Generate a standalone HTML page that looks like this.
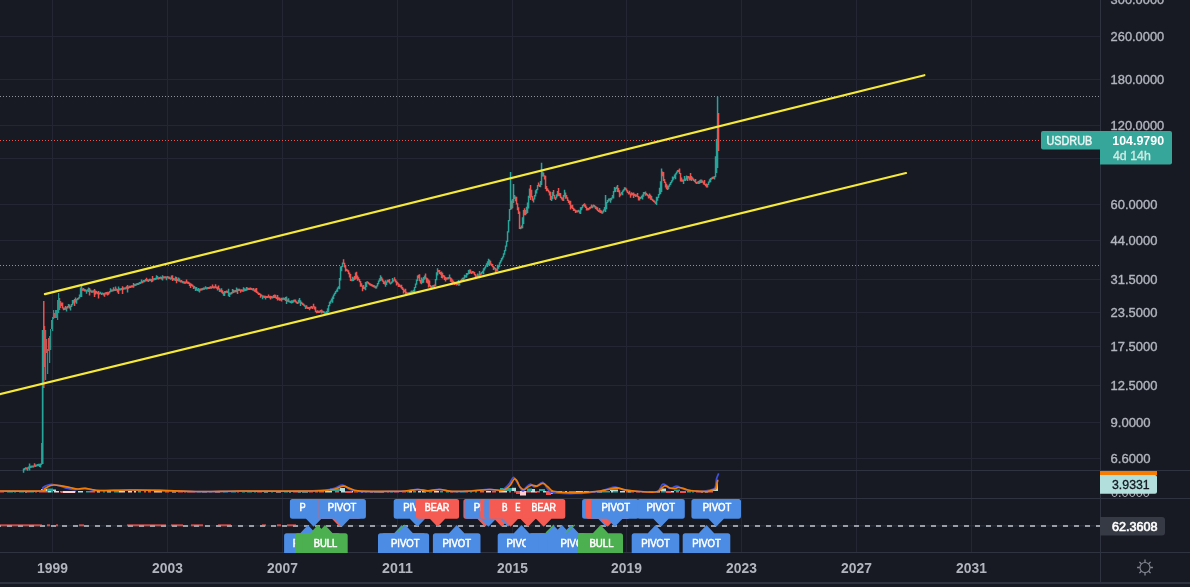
<!DOCTYPE html>
<html><head><meta charset="utf-8"><style>html,body{margin:0;padding:0;background:#171923;overflow:hidden}svg{display:block;will-change:transform}</style></head>
<body><svg width="1190" height="587" viewBox="0 0 1190 587">
<rect x="0" y="0" width="1190" height="587" fill="#171923"/>
<rect x="52" y="0" width="1" height="552" fill="#242733"/>
<rect x="167" y="0" width="1" height="552" fill="#242733"/>
<rect x="282" y="0" width="1" height="552" fill="#242733"/>
<rect x="397" y="0" width="1" height="552" fill="#242733"/>
<rect x="512" y="0" width="1" height="552" fill="#242733"/>
<rect x="626" y="0" width="1" height="552" fill="#242733"/>
<rect x="741" y="0" width="1" height="552" fill="#242733"/>
<rect x="856" y="0" width="1" height="552" fill="#242733"/>
<rect x="971" y="0" width="1" height="552" fill="#242733"/>
<rect x="0" y="36" width="1100" height="1" fill="#242733"/>
<rect x="0" y="79" width="1100" height="1" fill="#242733"/>
<rect x="0" y="125" width="1100" height="1" fill="#242733"/>
<rect x="0" y="158" width="1100" height="1" fill="#242733"/>
<rect x="0" y="204" width="1100" height="1" fill="#242733"/>
<rect x="0" y="240" width="1100" height="1" fill="#242733"/>
<rect x="0" y="279" width="1100" height="1" fill="#242733"/>
<rect x="0" y="312" width="1100" height="1" fill="#242733"/>
<rect x="0" y="346" width="1100" height="1" fill="#242733"/>
<rect x="0" y="385" width="1100" height="1" fill="#242733"/>
<rect x="0" y="422" width="1100" height="1" fill="#242733"/>
<rect x="0" y="458" width="1100" height="1" fill="#242733"/>
<rect x="0" y="470" width="1190" height="1" fill="#2f3340"/>
<rect x="0" y="498" width="1190" height="1" fill="#2f3340"/>
<rect x="0" y="552" width="1190" height="1" fill="#2f3340"/>
<rect x="1100" y="0" width="1" height="583" fill="#2f3340"/>
<rect x="0" y="582" width="1190" height="2" fill="#2f3340"/>
<line x1="0" y1="96.5" x2="1100" y2="96.5" stroke="#8f929b" stroke-width="1" stroke-dasharray="1 2"/>
<line x1="0" y1="265.5" x2="1100" y2="265.5" stroke="#8f929b" stroke-width="1" stroke-dasharray="1 2"/>
<line x1="0" y1="140.5" x2="1041" y2="140.5" stroke="#ef5350" stroke-width="1" stroke-dasharray="1 2"/>
<path d="M22.8 468.6h1.5V472.8h-1.5ZM23.8 468.0h1.5V470.2h-1.5ZM24.8 467.3h1.5V469.5h-1.5ZM26.8 467.3h1.5V470.8h-1.5ZM27.8 466.6h1.5V468.8h-1.5ZM28.8 463.5h1.5V470.4h-1.5ZM29.8 465.8h1.5V468.0h-1.5ZM30.8 465.5h1.5V467.7h-1.5ZM31.8 465.4h1.5V467.6h-1.5ZM34.8 464.6h1.5V466.9h-1.5ZM35.8 464.4h1.5V466.6h-1.5ZM36.8 464.0h1.5V466.2h-1.5ZM37.8 463.8h1.5V466.0h-1.5ZM38.8 463.8h1.5V466.9h-1.5ZM39.8 463.6h1.5V467.5h-1.5ZM63.8 307.6h1.5V310.0h-1.5ZM65.8 307.1h1.5V311.5h-1.5ZM67.8 303.9h1.5V307.4h-1.5ZM69.8 305.7h1.5V310.4h-1.5ZM70.8 304.1h1.5V306.9h-1.5ZM71.8 300.0h1.5V305.3h-1.5ZM72.8 299.9h1.5V303.6h-1.5ZM74.8 297.6h1.5V302.6h-1.5ZM75.8 298.9h1.5V303.8h-1.5ZM77.8 297.3h1.5V299.5h-1.5ZM78.8 294.5h1.5V298.6h-1.5ZM79.8 287.6h1.5V296.9h-1.5ZM80.8 285.6h1.5V290.5h-1.5ZM82.8 288.0h1.5V290.8h-1.5ZM84.8 289.3h1.5V291.5h-1.5ZM85.8 289.9h1.5V293.8h-1.5ZM86.8 289.3h1.5V291.6h-1.5ZM87.8 287.6h1.5V291.9h-1.5ZM88.8 289.5h1.5V291.7h-1.5ZM89.8 289.4h1.5V291.7h-1.5ZM91.8 290.5h1.5V292.7h-1.5ZM92.8 290.2h1.5V292.4h-1.5ZM93.8 291.2h1.5V294.5h-1.5ZM96.8 292.1h1.5V294.3h-1.5ZM98.8 292.4h1.5V294.6h-1.5ZM99.8 291.8h1.5V294.1h-1.5ZM101.8 292.4h1.5V294.6h-1.5ZM102.8 292.9h1.5V295.5h-1.5ZM104.8 292.2h1.5V294.5h-1.5ZM108.8 291.0h1.5V293.6h-1.5ZM109.8 288.2h1.5V292.2h-1.5ZM111.8 289.4h1.5V291.6h-1.5ZM113.8 288.9h1.5V291.1h-1.5ZM114.8 286.6h1.5V290.9h-1.5ZM117.8 286.5h1.5V290.1h-1.5ZM118.8 288.2h1.5V290.4h-1.5ZM119.8 288.3h1.5V290.5h-1.5ZM120.8 287.9h1.5V290.1h-1.5ZM123.8 287.4h1.5V289.6h-1.5ZM124.8 287.2h1.5V289.4h-1.5ZM126.8 284.9h1.5V288.7h-1.5ZM128.8 285.8h1.5V288.0h-1.5ZM133.8 284.1h1.5V286.3h-1.5ZM134.8 283.7h1.5V285.9h-1.5ZM135.8 283.3h1.5V285.5h-1.5ZM137.8 282.8h1.5V285.1h-1.5ZM138.8 282.1h1.5V284.3h-1.5ZM139.8 281.7h1.5V283.9h-1.5ZM140.8 279.5h1.5V283.2h-1.5ZM142.8 280.0h1.5V282.4h-1.5ZM143.8 280.1h1.5V282.3h-1.5ZM147.8 279.4h1.5V282.1h-1.5ZM149.8 278.7h1.5V280.9h-1.5ZM152.8 278.2h1.5V280.4h-1.5ZM153.8 278.0h1.5V280.2h-1.5ZM154.8 277.8h1.5V280.0h-1.5ZM155.8 275.3h1.5V279.4h-1.5ZM156.8 276.1h1.5V279.2h-1.5ZM159.8 276.5h1.5V278.7h-1.5ZM161.8 275.2h1.5V280.4h-1.5ZM165.8 276.4h1.5V280.2h-1.5ZM166.8 276.0h1.5V278.2h-1.5ZM168.8 276.8h1.5V279.0h-1.5ZM169.8 277.5h1.5V279.7h-1.5ZM173.8 278.3h1.5V280.5h-1.5ZM174.8 276.6h1.5V281.0h-1.5ZM177.8 277.6h1.5V281.5h-1.5ZM178.8 278.4h1.5V281.8h-1.5ZM181.8 281.0h1.5V283.2h-1.5ZM182.8 281.3h1.5V283.5h-1.5ZM184.8 281.5h1.5V283.7h-1.5ZM186.8 281.5h1.5V283.7h-1.5ZM193.8 285.9h1.5V288.6h-1.5ZM194.8 287.1h1.5V291.1h-1.5ZM195.8 287.1h1.5V290.6h-1.5ZM196.8 288.8h1.5V291.0h-1.5ZM197.8 288.0h1.5V291.5h-1.5ZM198.8 288.7h1.5V292.6h-1.5ZM201.8 288.0h1.5V290.2h-1.5ZM203.8 287.5h1.5V289.7h-1.5ZM204.8 286.2h1.5V289.1h-1.5ZM205.8 287.2h1.5V289.4h-1.5ZM206.8 287.0h1.5V289.2h-1.5ZM208.8 286.8h1.5V289.0h-1.5ZM210.8 286.5h1.5V288.7h-1.5ZM216.8 286.8h1.5V290.5h-1.5ZM218.8 288.3h1.5V292.0h-1.5ZM220.8 288.2h1.5V292.8h-1.5ZM222.8 292.0h1.5V295.7h-1.5ZM223.8 290.9h1.5V295.9h-1.5ZM226.8 290.7h1.5V292.9h-1.5ZM227.8 288.8h1.5V296.3h-1.5ZM228.8 292.4h1.5V296.9h-1.5ZM229.8 292.5h1.5V294.7h-1.5ZM231.8 289.0h1.5V293.5h-1.5ZM233.8 290.3h1.5V292.5h-1.5ZM235.8 287.4h1.5V292.3h-1.5ZM237.8 288.8h1.5V291.0h-1.5ZM242.8 287.3h1.5V291.8h-1.5ZM243.8 288.2h1.5V291.3h-1.5ZM244.8 288.8h1.5V291.0h-1.5ZM245.8 286.9h1.5V290.7h-1.5ZM251.8 288.4h1.5V290.6h-1.5ZM261.8 295.2h1.5V299.3h-1.5ZM262.8 295.5h1.5V297.7h-1.5ZM264.8 295.8h1.5V299.5h-1.5ZM268.8 296.0h1.5V298.2h-1.5ZM271.8 296.2h1.5V298.4h-1.5ZM281.8 297.7h1.5V299.9h-1.5ZM282.8 297.5h1.5V299.7h-1.5ZM283.8 297.9h1.5V300.1h-1.5ZM285.8 296.5h1.5V303.9h-1.5ZM287.8 298.2h1.5V302.3h-1.5ZM288.8 300.4h1.5V302.6h-1.5ZM289.8 300.9h1.5V303.1h-1.5ZM290.8 300.3h1.5V303.6h-1.5ZM291.8 300.3h1.5V303.1h-1.5ZM292.8 299.8h1.5V302.5h-1.5ZM297.8 299.8h1.5V303.5h-1.5ZM298.8 298.0h1.5V302.8h-1.5ZM299.8 300.3h1.5V306.0h-1.5ZM303.8 304.5h1.5V306.7h-1.5ZM304.8 305.5h1.5V309.1h-1.5ZM308.8 306.9h1.5V310.2h-1.5ZM318.8 310.7h1.5V313.0h-1.5ZM320.8 309.5h1.5V313.6h-1.5ZM322.8 311.1h1.5V313.3h-1.5ZM323.8 311.6h1.5V313.8h-1.5ZM324.8 312.2h1.5V314.4h-1.5ZM325.8 311.0h1.5V314.4h-1.5ZM326.8 308.3h1.5V312.9h-1.5ZM327.8 305.1h1.5V312.0h-1.5ZM328.8 301.8h1.5V306.3h-1.5ZM329.8 300.6h1.5V303.8h-1.5ZM330.8 298.6h1.5V301.8h-1.5ZM331.8 296.6h1.5V302.7h-1.5ZM332.8 294.6h1.5V299.1h-1.5ZM333.8 292.8h1.5V295.8h-1.5ZM334.8 291.1h1.5V294.0h-1.5ZM335.8 289.4h1.5V292.3h-1.5ZM336.8 287.6h1.5V291.8h-1.5ZM337.8 286.2h1.5V288.8h-1.5ZM338.8 278.1h1.5V289.3h-1.5ZM339.8 266.5h1.5V280.4h-1.5ZM340.8 265.9h1.5V271.3h-1.5ZM341.8 262.4h1.5V267.1h-1.5ZM350.8 279.0h1.5V281.2h-1.5ZM351.8 276.7h1.5V281.3h-1.5ZM352.8 277.5h1.5V281.0h-1.5ZM354.8 272.6h1.5V279.4h-1.5ZM363.8 286.8h1.5V289.3h-1.5ZM364.8 281.9h1.5V290.2h-1.5ZM365.8 281.4h1.5V286.9h-1.5ZM373.8 285.2h1.5V287.7h-1.5ZM375.8 285.4h1.5V288.5h-1.5ZM376.8 283.0h1.5V286.6h-1.5ZM377.8 280.6h1.5V284.2h-1.5ZM378.8 278.2h1.5V281.8h-1.5ZM379.8 275.2h1.5V281.0h-1.5ZM384.8 280.2h1.5V286.8h-1.5ZM385.8 281.4h1.5V284.9h-1.5ZM386.8 279.7h1.5V282.6h-1.5ZM389.8 282.4h1.5V284.6h-1.5ZM390.8 281.5h1.5V283.8h-1.5ZM391.8 277.9h1.5V282.8h-1.5ZM392.8 279.6h1.5V281.8h-1.5ZM407.8 292.3h1.5V294.5h-1.5ZM409.8 291.6h1.5V293.8h-1.5ZM410.8 290.4h1.5V294.1h-1.5ZM411.8 290.7h1.5V292.9h-1.5ZM412.8 289.7h1.5V292.7h-1.5ZM413.8 286.9h1.5V293.3h-1.5ZM414.8 283.6h1.5V288.1h-1.5ZM415.8 279.5h1.5V284.8h-1.5ZM416.8 275.5h1.5V280.9h-1.5ZM420.8 277.4h1.5V284.3h-1.5ZM421.8 278.7h1.5V283.1h-1.5ZM422.8 277.1h1.5V282.7h-1.5ZM423.8 275.5h1.5V279.7h-1.5ZM430.8 286.0h1.5V289.6h-1.5ZM431.8 285.3h1.5V287.5h-1.5ZM434.8 279.0h1.5V286.0h-1.5ZM435.8 272.3h1.5V280.2h-1.5ZM436.8 268.3h1.5V275.5h-1.5ZM440.8 271.6h1.5V278.0h-1.5ZM447.8 277.1h1.5V279.3h-1.5ZM448.8 274.6h1.5V278.7h-1.5ZM457.8 279.9h1.5V285.8h-1.5ZM458.8 281.3h1.5V285.5h-1.5ZM460.8 278.7h1.5V281.6h-1.5ZM461.8 277.8h1.5V281.4h-1.5ZM463.8 274.8h1.5V278.7h-1.5ZM464.8 275.3h1.5V277.6h-1.5ZM465.8 273.1h1.5V277.7h-1.5ZM466.8 273.0h1.5V275.3h-1.5ZM467.8 269.9h1.5V274.2h-1.5ZM468.8 269.4h1.5V273.9h-1.5ZM470.8 271.6h1.5V273.9h-1.5ZM472.8 271.3h1.5V273.6h-1.5ZM476.8 273.6h1.5V277.1h-1.5ZM477.8 274.4h1.5V276.6h-1.5ZM478.8 270.9h1.5V278.3h-1.5ZM480.8 272.1h1.5V274.4h-1.5ZM481.8 270.8h1.5V273.3h-1.5ZM482.8 268.2h1.5V274.2h-1.5ZM483.8 267.3h1.5V270.5h-1.5ZM484.8 265.2h1.5V268.5h-1.5ZM485.8 263.2h1.5V266.4h-1.5ZM486.8 261.2h1.5V267.1h-1.5ZM487.8 258.7h1.5V265.2h-1.5ZM488.8 259.8h1.5V265.5h-1.5ZM493.8 267.1h1.5V269.3h-1.5ZM496.8 264.8h1.5V270.9h-1.5ZM497.8 264.8h1.5V268.7h-1.5ZM498.8 262.3h1.5V267.0h-1.5ZM499.8 260.3h1.5V263.5h-1.5ZM500.8 258.1h1.5V261.5h-1.5ZM501.8 256.4h1.5V259.6h-1.5ZM502.8 253.3h1.5V257.6h-1.5ZM503.8 250.0h1.5V254.8h-1.5ZM504.8 245.6h1.5V251.2h-1.5ZM505.8 240.8h1.5V246.8h-1.5ZM506.8 231.3h1.5V242.0h-1.5ZM507.8 220.0h1.5V232.5h-1.5ZM508.8 208.9h1.5V221.2h-1.5ZM509.8 201.6h1.5V210.1h-1.5ZM511.8 199.1h1.5V208.3h-1.5ZM512.8 197.8h1.5V202.9h-1.5ZM513.8 195.0h1.5V199.0h-1.5ZM519.8 227.0h1.5V229.2h-1.5ZM521.8 217.3h1.5V228.2h-1.5ZM522.8 210.1h1.5V224.1h-1.5ZM525.8 206.7h1.5V214.1h-1.5ZM526.8 202.5h1.5V213.0h-1.5ZM527.8 195.8h1.5V208.5h-1.5ZM528.8 188.6h1.5V197.9h-1.5ZM532.8 198.4h1.5V202.6h-1.5ZM533.8 194.9h1.5V199.6h-1.5ZM534.8 190.2h1.5V196.6h-1.5ZM535.8 189.1h1.5V193.6h-1.5ZM536.8 185.1h1.5V190.3h-1.5ZM539.8 181.0h1.5V187.2h-1.5ZM540.8 175.4h1.5V182.2h-1.5ZM541.8 171.5h1.5V176.6h-1.5ZM550.8 196.1h1.5V200.9h-1.5ZM551.8 192.0h1.5V199.2h-1.5ZM555.8 194.2h1.5V198.5h-1.5ZM556.8 191.1h1.5V196.4h-1.5ZM562.8 194.9h1.5V200.9h-1.5ZM563.8 189.8h1.5V196.8h-1.5ZM577.8 209.8h1.5V212.0h-1.5ZM578.8 210.5h1.5V213.5h-1.5ZM579.8 207.2h1.5V213.9h-1.5ZM580.8 207.1h1.5V210.3h-1.5ZM581.8 204.9h1.5V208.3h-1.5ZM588.8 206.9h1.5V209.4h-1.5ZM591.8 205.4h1.5V208.2h-1.5ZM593.8 205.0h1.5V207.4h-1.5ZM598.8 208.1h1.5V212.5h-1.5ZM601.8 211.2h1.5V213.8h-1.5ZM602.8 209.6h1.5V212.4h-1.5ZM603.8 207.0h1.5V210.8h-1.5ZM604.8 205.3h1.5V211.9h-1.5ZM605.8 201.9h1.5V209.2h-1.5ZM606.8 200.1h1.5V203.1h-1.5ZM607.8 198.4h1.5V201.8h-1.5ZM609.8 198.1h1.5V202.8h-1.5ZM610.8 197.4h1.5V200.3h-1.5ZM611.8 195.1h1.5V198.6h-1.5ZM612.8 191.1h1.5V198.6h-1.5ZM613.8 186.9h1.5V192.3h-1.5ZM614.8 187.8h1.5V192.1h-1.5ZM615.8 186.4h1.5V189.0h-1.5ZM620.8 192.0h1.5V194.6h-1.5ZM621.8 190.6h1.5V195.3h-1.5ZM622.8 189.2h1.5V191.8h-1.5ZM623.8 187.3h1.5V190.4h-1.5ZM634.8 194.2h1.5V197.0h-1.5ZM639.8 196.9h1.5V199.1h-1.5ZM640.8 195.7h1.5V198.2h-1.5ZM641.8 194.4h1.5V199.4h-1.5ZM642.8 192.1h1.5V196.7h-1.5ZM643.8 192.0h1.5V194.3h-1.5ZM646.8 194.1h1.5V196.3h-1.5ZM650.8 196.0h1.5V200.1h-1.5ZM652.8 199.7h1.5V201.9h-1.5ZM654.8 201.6h1.5V204.1h-1.5ZM655.8 196.8h1.5V205.0h-1.5ZM656.8 196.8h1.5V200.7h-1.5ZM657.8 194.1h1.5V198.0h-1.5ZM658.8 187.7h1.5V195.3h-1.5ZM659.8 181.3h1.5V194.1h-1.5ZM660.8 171.8h1.5V182.5h-1.5ZM667.8 185.5h1.5V189.3h-1.5ZM668.8 183.7h1.5V186.7h-1.5ZM669.8 182.0h1.5V184.9h-1.5ZM670.8 180.3h1.5V183.2h-1.5ZM671.8 176.5h1.5V181.5h-1.5ZM672.8 176.8h1.5V179.7h-1.5ZM673.8 174.5h1.5V178.0h-1.5ZM674.8 173.3h1.5V179.2h-1.5ZM675.8 171.6h1.5V174.5h-1.5ZM676.8 169.9h1.5V172.8h-1.5ZM682.8 179.4h1.5V184.0h-1.5ZM683.8 175.9h1.5V181.0h-1.5ZM684.8 178.4h1.5V181.1h-1.5ZM685.8 175.6h1.5V179.7h-1.5ZM688.8 176.4h1.5V180.6h-1.5ZM690.8 176.1h1.5V180.9h-1.5ZM693.8 179.7h1.5V182.1h-1.5ZM696.8 181.6h1.5V183.8h-1.5ZM697.8 181.0h1.5V184.0h-1.5ZM699.8 179.5h1.5V183.1h-1.5ZM700.8 179.4h1.5V182.9h-1.5ZM706.8 183.9h1.5V187.5h-1.5ZM707.8 181.6h1.5V185.1h-1.5ZM708.8 179.2h1.5V182.8h-1.5ZM709.8 178.0h1.5V182.2h-1.5ZM710.8 177.5h1.5V179.8h-1.5ZM713.8 176.0h1.5V179.5h-1.5ZM714.8 156.3h1.5V177.2h-1.5ZM715.8 140.0h1.5V160.8h-1.5ZM716.8 128.9h1.5V143.3h-1.5ZM80.8 287.0h1.5V297.0h-1.5ZM126.8 286.0h1.5V292.5h-1.5ZM509.8 172.0h1.5V206.0h-1.5ZM512.8 184.0h1.5V200.0h-1.5ZM540.8 162.8h1.5V185.0h-1.5ZM604.8 195.0h1.5V208.0h-1.5ZM660.8 168.5h1.5V192.0h-1.5ZM716.8 96.5h1.5V168.0h-1.5ZM715.8 139.0h1.5V173.0h-1.5Z" fill="#26a69a"/>
<path d="M25.8 467.4h1.5V469.6h-1.5ZM32.8 465.4h1.5V467.6h-1.5ZM33.8 463.3h1.5V466.8h-1.5ZM60.8 302.6h1.5V306.1h-1.5ZM61.8 302.5h1.5V308.6h-1.5ZM62.8 307.4h1.5V310.2h-1.5ZM64.8 305.9h1.5V309.7h-1.5ZM66.8 306.1h1.5V308.4h-1.5ZM68.8 304.4h1.5V308.6h-1.5ZM73.8 299.0h1.5V306.0h-1.5ZM76.8 298.0h1.5V300.2h-1.5ZM81.8 288.6h1.5V290.8h-1.5ZM83.8 289.1h1.5V291.4h-1.5ZM90.8 290.5h1.5V292.8h-1.5ZM94.8 290.6h1.5V294.6h-1.5ZM95.8 290.9h1.5V293.5h-1.5ZM97.8 292.3h1.5V294.5h-1.5ZM100.8 292.9h1.5V295.1h-1.5ZM103.8 292.8h1.5V296.8h-1.5ZM105.8 292.1h1.5V294.4h-1.5ZM106.8 291.8h1.5V295.6h-1.5ZM107.8 292.0h1.5V294.7h-1.5ZM110.8 289.6h1.5V291.8h-1.5ZM112.8 287.2h1.5V291.3h-1.5ZM115.8 288.6h1.5V290.8h-1.5ZM116.8 288.9h1.5V292.5h-1.5ZM121.8 286.3h1.5V289.5h-1.5ZM122.8 287.5h1.5V289.8h-1.5ZM125.8 286.3h1.5V288.8h-1.5ZM127.8 286.5h1.5V288.7h-1.5ZM129.8 285.7h1.5V287.9h-1.5ZM130.8 285.3h1.5V287.5h-1.5ZM131.8 285.2h1.5V287.6h-1.5ZM132.8 283.1h1.5V287.8h-1.5ZM136.8 282.9h1.5V285.1h-1.5ZM141.8 281.0h1.5V283.2h-1.5ZM144.8 279.0h1.5V281.6h-1.5ZM145.8 277.8h1.5V281.2h-1.5ZM146.8 279.2h1.5V281.4h-1.5ZM148.8 278.8h1.5V281.0h-1.5ZM150.8 278.9h1.5V282.3h-1.5ZM151.8 275.9h1.5V281.8h-1.5ZM157.8 277.2h1.5V279.4h-1.5ZM158.8 276.9h1.5V279.1h-1.5ZM160.8 276.9h1.5V279.5h-1.5ZM162.8 276.2h1.5V278.4h-1.5ZM163.8 276.2h1.5V278.4h-1.5ZM164.8 276.2h1.5V278.4h-1.5ZM167.8 276.6h1.5V278.8h-1.5ZM170.8 275.4h1.5V279.3h-1.5ZM171.8 275.3h1.5V281.0h-1.5ZM172.8 278.0h1.5V280.2h-1.5ZM175.8 276.9h1.5V283.2h-1.5ZM176.8 278.7h1.5V281.1h-1.5ZM179.8 280.3h1.5V282.5h-1.5ZM180.8 279.9h1.5V282.5h-1.5ZM183.8 281.6h1.5V283.8h-1.5ZM185.8 279.6h1.5V283.2h-1.5ZM187.8 281.8h1.5V284.0h-1.5ZM188.8 282.6h1.5V285.9h-1.5ZM189.8 283.3h1.5V287.9h-1.5ZM190.8 283.8h1.5V286.0h-1.5ZM191.8 284.5h1.5V286.7h-1.5ZM192.8 285.4h1.5V289.0h-1.5ZM199.8 288.5h1.5V290.7h-1.5ZM200.8 288.2h1.5V290.4h-1.5ZM202.8 287.6h1.5V289.8h-1.5ZM207.8 286.9h1.5V289.1h-1.5ZM209.8 286.2h1.5V288.4h-1.5ZM211.8 284.6h1.5V288.1h-1.5ZM212.8 286.3h1.5V288.5h-1.5ZM213.8 286.3h1.5V288.5h-1.5ZM214.8 284.3h1.5V288.0h-1.5ZM215.8 286.6h1.5V288.8h-1.5ZM217.8 285.4h1.5V289.5h-1.5ZM219.8 289.4h1.5V291.7h-1.5ZM221.8 290.3h1.5V293.8h-1.5ZM224.8 291.0h1.5V293.2h-1.5ZM225.8 290.6h1.5V292.8h-1.5ZM230.8 292.0h1.5V294.2h-1.5ZM232.8 289.7h1.5V293.0h-1.5ZM234.8 290.1h1.5V292.3h-1.5ZM236.8 288.8h1.5V293.9h-1.5ZM238.8 288.8h1.5V291.0h-1.5ZM239.8 289.4h1.5V292.7h-1.5ZM240.8 289.3h1.5V291.5h-1.5ZM241.8 289.5h1.5V291.7h-1.5ZM246.8 287.4h1.5V290.3h-1.5ZM247.8 287.9h1.5V290.1h-1.5ZM248.8 287.8h1.5V290.0h-1.5ZM249.8 287.5h1.5V289.7h-1.5ZM250.8 287.9h1.5V290.1h-1.5ZM252.8 288.0h1.5V290.8h-1.5ZM253.8 289.5h1.5V291.7h-1.5ZM254.8 288.4h1.5V292.3h-1.5ZM255.8 288.1h1.5V292.9h-1.5ZM256.8 291.6h1.5V293.8h-1.5ZM257.8 292.4h1.5V295.1h-1.5ZM258.8 292.9h1.5V295.1h-1.5ZM259.8 293.8h1.5V297.7h-1.5ZM260.8 294.4h1.5V296.6h-1.5ZM263.8 295.8h1.5V298.0h-1.5ZM265.8 295.9h1.5V298.1h-1.5ZM266.8 295.9h1.5V298.1h-1.5ZM267.8 294.4h1.5V297.7h-1.5ZM269.8 295.8h1.5V299.4h-1.5ZM270.8 296.1h1.5V298.3h-1.5ZM272.8 295.0h1.5V297.9h-1.5ZM273.8 294.4h1.5V298.0h-1.5ZM274.8 294.8h1.5V298.3h-1.5ZM275.8 296.9h1.5V299.1h-1.5ZM276.8 294.9h1.5V300.5h-1.5ZM277.8 297.3h1.5V299.8h-1.5ZM278.8 297.4h1.5V300.7h-1.5ZM279.8 298.4h1.5V300.6h-1.5ZM280.8 297.8h1.5V301.5h-1.5ZM284.8 297.0h1.5V301.1h-1.5ZM286.8 299.5h1.5V301.7h-1.5ZM293.8 299.6h1.5V301.8h-1.5ZM294.8 299.4h1.5V302.5h-1.5ZM295.8 301.2h1.5V303.4h-1.5ZM296.8 301.9h1.5V304.1h-1.5ZM300.8 301.8h1.5V304.0h-1.5ZM301.8 302.7h1.5V304.9h-1.5ZM302.8 303.6h1.5V305.8h-1.5ZM305.8 305.3h1.5V308.5h-1.5ZM306.8 306.8h1.5V309.0h-1.5ZM307.8 306.9h1.5V309.1h-1.5ZM309.8 306.5h1.5V308.7h-1.5ZM310.8 306.1h1.5V308.3h-1.5ZM311.8 306.4h1.5V309.0h-1.5ZM312.8 303.7h1.5V307.6h-1.5ZM313.8 306.2h1.5V309.6h-1.5ZM314.8 306.7h1.5V312.0h-1.5ZM315.8 310.8h1.5V313.2h-1.5ZM316.8 310.3h1.5V313.0h-1.5ZM317.8 310.8h1.5V313.0h-1.5ZM319.8 310.1h1.5V312.3h-1.5ZM321.8 310.5h1.5V312.7h-1.5ZM342.8 259.2h1.5V263.9h-1.5ZM343.8 262.7h1.5V267.4h-1.5ZM344.8 265.3h1.5V271.6h-1.5ZM345.8 268.7h1.5V270.9h-1.5ZM346.8 269.5h1.5V271.7h-1.5ZM347.8 270.2h1.5V274.3h-1.5ZM348.8 272.5h1.5V277.6h-1.5ZM349.8 273.9h1.5V280.9h-1.5ZM353.8 276.1h1.5V280.1h-1.5ZM355.8 271.8h1.5V278.8h-1.5ZM356.8 275.6h1.5V280.8h-1.5ZM357.8 277.3h1.5V280.2h-1.5ZM358.8 279.0h1.5V282.2h-1.5ZM359.8 281.0h1.5V286.8h-1.5ZM360.8 283.3h1.5V286.7h-1.5ZM361.8 285.5h1.5V291.3h-1.5ZM362.8 284.9h1.5V289.1h-1.5ZM366.8 281.3h1.5V283.5h-1.5ZM367.8 282.0h1.5V284.2h-1.5ZM368.8 282.9h1.5V285.2h-1.5ZM369.8 283.5h1.5V285.7h-1.5ZM370.8 284.0h1.5V286.2h-1.5ZM371.8 284.5h1.5V286.7h-1.5ZM372.8 285.0h1.5V287.2h-1.5ZM374.8 286.0h1.5V288.4h-1.5ZM380.8 276.8h1.5V280.5h-1.5ZM381.8 278.5h1.5V281.8h-1.5ZM382.8 280.6h1.5V283.9h-1.5ZM383.8 281.6h1.5V284.4h-1.5ZM387.8 279.7h1.5V282.3h-1.5ZM388.8 278.9h1.5V283.6h-1.5ZM393.8 277.3h1.5V280.8h-1.5ZM394.8 279.3h1.5V282.4h-1.5ZM395.8 280.7h1.5V285.5h-1.5ZM396.8 282.0h1.5V284.4h-1.5ZM397.8 283.2h1.5V287.1h-1.5ZM398.8 284.2h1.5V287.0h-1.5ZM399.8 285.3h1.5V287.6h-1.5ZM400.8 284.8h1.5V288.7h-1.5ZM401.8 287.1h1.5V289.9h-1.5ZM402.8 288.6h1.5V293.4h-1.5ZM403.8 289.8h1.5V292.1h-1.5ZM404.8 288.8h1.5V293.9h-1.5ZM405.8 291.8h1.5V294.1h-1.5ZM406.8 292.5h1.5V294.8h-1.5ZM408.8 292.0h1.5V294.2h-1.5ZM417.8 274.7h1.5V278.2h-1.5ZM418.8 274.3h1.5V281.2h-1.5ZM419.8 280.0h1.5V283.5h-1.5ZM424.8 273.4h1.5V278.7h-1.5ZM425.8 277.5h1.5V282.8h-1.5ZM426.8 278.2h1.5V283.6h-1.5ZM427.8 279.6h1.5V287.4h-1.5ZM428.8 280.4h1.5V286.5h-1.5ZM429.8 285.1h1.5V287.7h-1.5ZM432.8 284.9h1.5V287.1h-1.5ZM433.8 284.5h1.5V286.7h-1.5ZM437.8 270.1h1.5V272.3h-1.5ZM438.8 270.1h1.5V274.0h-1.5ZM439.8 272.1h1.5V274.8h-1.5ZM441.8 272.8h1.5V278.5h-1.5ZM442.8 275.1h1.5V277.3h-1.5ZM443.8 275.4h1.5V280.1h-1.5ZM444.8 277.1h1.5V281.6h-1.5ZM445.8 277.5h1.5V279.7h-1.5ZM446.8 277.3h1.5V279.5h-1.5ZM449.8 277.2h1.5V281.7h-1.5ZM450.8 278.2h1.5V282.5h-1.5ZM451.8 279.5h1.5V284.5h-1.5ZM452.8 280.8h1.5V283.6h-1.5ZM453.8 281.8h1.5V285.0h-1.5ZM454.8 282.3h1.5V284.5h-1.5ZM455.8 283.2h1.5V285.5h-1.5ZM456.8 281.8h1.5V285.0h-1.5ZM459.8 280.3h1.5V282.5h-1.5ZM462.8 277.5h1.5V279.9h-1.5ZM469.8 269.4h1.5V273.2h-1.5ZM471.8 271.0h1.5V273.2h-1.5ZM473.8 271.9h1.5V275.2h-1.5ZM474.8 274.0h1.5V277.2h-1.5ZM475.8 275.6h1.5V277.8h-1.5ZM479.8 273.2h1.5V275.4h-1.5ZM489.8 260.7h1.5V264.8h-1.5ZM490.8 263.6h1.5V265.9h-1.5ZM491.8 264.1h1.5V267.2h-1.5ZM492.8 266.0h1.5V270.1h-1.5ZM494.8 268.0h1.5V272.1h-1.5ZM495.8 268.8h1.5V271.4h-1.5ZM510.8 200.5h1.5V209.2h-1.5ZM514.8 196.6h1.5V201.3h-1.5ZM515.8 196.7h1.5V204.4h-1.5ZM516.8 203.2h1.5V210.3h-1.5ZM517.8 207.2h1.5V214.0h-1.5ZM518.8 211.5h1.5V229.0h-1.5ZM520.8 225.6h1.5V228.5h-1.5ZM523.8 208.2h1.5V215.3h-1.5ZM524.8 210.1h1.5V215.3h-1.5ZM529.8 187.7h1.5V193.7h-1.5ZM530.8 189.7h1.5V197.2h-1.5ZM531.8 196.0h1.5V200.7h-1.5ZM537.8 182.4h1.5V186.3h-1.5ZM538.8 184.4h1.5V187.1h-1.5ZM542.8 172.4h1.5V176.5h-1.5ZM543.8 175.3h1.5V179.5h-1.5ZM544.8 175.7h1.5V189.1h-1.5ZM545.8 185.9h1.5V191.2h-1.5ZM546.8 188.2h1.5V190.9h-1.5ZM547.8 189.8h1.5V192.4h-1.5ZM548.8 191.2h1.5V195.5h-1.5ZM549.8 191.8h1.5V200.0h-1.5ZM552.8 190.0h1.5V196.1h-1.5ZM553.8 194.9h1.5V198.7h-1.5ZM554.8 197.3h1.5V200.0h-1.5ZM557.8 188.1h1.5V196.1h-1.5ZM558.8 193.1h1.5V196.2h-1.5ZM559.8 192.9h1.5V198.0h-1.5ZM560.8 196.8h1.5V199.4h-1.5ZM561.8 197.5h1.5V200.8h-1.5ZM564.8 192.5h1.5V198.7h-1.5ZM565.8 194.9h1.5V198.5h-1.5ZM566.8 197.3h1.5V201.0h-1.5ZM567.8 199.8h1.5V202.9h-1.5ZM568.8 200.7h1.5V204.7h-1.5ZM569.8 200.8h1.5V209.4h-1.5ZM570.8 205.3h1.5V208.0h-1.5ZM571.8 204.8h1.5V209.0h-1.5ZM572.8 207.8h1.5V211.1h-1.5ZM573.8 208.8h1.5V211.0h-1.5ZM574.8 209.8h1.5V213.1h-1.5ZM575.8 210.2h1.5V212.4h-1.5ZM576.8 210.2h1.5V212.4h-1.5ZM582.8 203.9h1.5V206.3h-1.5ZM583.8 203.3h1.5V206.8h-1.5ZM584.8 204.4h1.5V208.0h-1.5ZM585.8 206.5h1.5V210.4h-1.5ZM586.8 208.0h1.5V210.5h-1.5ZM587.8 208.0h1.5V210.2h-1.5ZM589.8 206.6h1.5V208.8h-1.5ZM590.8 204.6h1.5V208.0h-1.5ZM592.8 204.6h1.5V206.8h-1.5ZM594.8 205.9h1.5V208.9h-1.5ZM595.8 206.7h1.5V209.7h-1.5ZM596.8 207.2h1.5V210.9h-1.5ZM597.8 209.7h1.5V212.0h-1.5ZM599.8 209.8h1.5V213.0h-1.5ZM600.8 210.6h1.5V213.5h-1.5ZM608.8 198.6h1.5V200.8h-1.5ZM616.8 185.1h1.5V191.9h-1.5ZM617.8 188.1h1.5V192.2h-1.5ZM618.8 190.2h1.5V197.3h-1.5ZM619.8 193.4h1.5V195.7h-1.5ZM624.8 187.4h1.5V189.8h-1.5ZM625.8 188.6h1.5V191.4h-1.5ZM626.8 190.2h1.5V193.1h-1.5ZM627.8 191.9h1.5V194.4h-1.5ZM628.8 190.8h1.5V194.6h-1.5ZM629.8 193.4h1.5V197.7h-1.5ZM630.8 192.2h1.5V195.6h-1.5ZM631.8 193.1h1.5V195.3h-1.5ZM632.8 192.6h1.5V197.9h-1.5ZM633.8 193.8h1.5V196.0h-1.5ZM635.8 194.4h1.5V196.6h-1.5ZM636.8 193.0h1.5V197.2h-1.5ZM637.8 196.1h1.5V200.5h-1.5ZM638.8 196.8h1.5V200.5h-1.5ZM644.8 191.4h1.5V195.7h-1.5ZM645.8 193.1h1.5V195.3h-1.5ZM647.8 195.1h1.5V198.6h-1.5ZM648.8 193.5h1.5V198.3h-1.5ZM649.8 194.7h1.5V199.8h-1.5ZM651.8 198.8h1.5V201.0h-1.5ZM653.8 200.6h1.5V202.8h-1.5ZM661.8 171.4h1.5V176.2h-1.5ZM662.8 172.0h1.5V181.1h-1.5ZM663.8 178.9h1.5V182.9h-1.5ZM664.8 181.7h1.5V187.4h-1.5ZM665.8 183.7h1.5V189.2h-1.5ZM666.8 185.6h1.5V190.0h-1.5ZM677.8 169.7h1.5V172.1h-1.5ZM678.8 168.4h1.5V174.1h-1.5ZM679.8 172.9h1.5V181.5h-1.5ZM680.8 177.4h1.5V181.7h-1.5ZM681.8 179.6h1.5V181.8h-1.5ZM686.8 175.9h1.5V181.0h-1.5ZM687.8 176.0h1.5V178.6h-1.5ZM689.8 173.1h1.5V180.2h-1.5ZM691.8 177.3h1.5V179.7h-1.5ZM692.8 178.5h1.5V180.9h-1.5ZM694.8 179.1h1.5V183.3h-1.5ZM695.8 181.9h1.5V184.1h-1.5ZM698.8 180.3h1.5V183.8h-1.5ZM701.8 180.4h1.5V182.7h-1.5ZM702.8 181.5h1.5V184.6h-1.5ZM703.8 180.1h1.5V185.1h-1.5ZM704.8 183.9h1.5V186.3h-1.5ZM705.8 183.4h1.5V187.5h-1.5ZM711.8 176.8h1.5V178.9h-1.5ZM712.8 176.5h1.5V178.8h-1.5ZM717.8 124.4h1.5V141.1h-1.5ZM88.8 288.0h1.5V295.6h-1.5ZM93.8 289.0h1.5V297.0h-1.5ZM97.8 291.0h1.5V298.5h-1.5ZM117.8 289.0h1.5V294.0h-1.5ZM121.8 287.0h1.5V294.0h-1.5ZM529.8 185.0h1.5V200.0h-1.5ZM717.8 113.0h1.5V151.0h-1.5Z" fill="#ef5350"/>
<rect x="43.1" y="301" width="1.1" height="87" fill="#ef5350"/><rect x="44.1" y="326" width="1.1" height="41" fill="#ef5350"/><rect x="46.1" y="339" width="1.1" height="14" fill="#ef5350"/><rect x="48.1" y="338" width="1.1" height="13" fill="#ef5350"/><rect x="51.1" y="320" width="1.1" height="9" fill="#ef5350"/><rect x="54.1" y="313" width="1.1" height="5" fill="#ef5350"/><rect x="59.1" y="298" width="1.1" height="12" fill="#ef5350"/><rect x="60.1" y="301" width="1.1" height="7" fill="#ef5350"/><rect x="41.1" y="443" width="1.1" height="22" fill="#26a69a"/><rect x="42.1" y="330" width="1.1" height="134" fill="#26a69a"/><rect x="45.1" y="330" width="1.1" height="50" fill="#26a69a"/><rect x="47.1" y="349" width="1.1" height="25" fill="#26a69a"/><rect x="49.1" y="336" width="1.1" height="27" fill="#26a69a"/><rect x="50.1" y="329" width="1.1" height="21" fill="#26a69a"/><rect x="52.1" y="317" width="1.1" height="14" fill="#26a69a"/><rect x="53.1" y="310" width="1.1" height="9" fill="#26a69a"/><rect x="55.1" y="310" width="1.1" height="8" fill="#26a69a"/><rect x="56.1" y="310" width="1.1" height="8" fill="#26a69a"/><rect x="57.1" y="300" width="1.1" height="20" fill="#26a69a"/><rect x="58.1" y="293" width="1.1" height="20" fill="#26a69a"/><rect x="41.8" y="330" width="1.6" height="134" fill="#26a69a"/><rect x="43.4" y="301" width="1" height="87" fill="#ef5350"/>
<line x1="44.9" y1="294.1" x2="924.4" y2="75.2" stroke="#f5e93a" stroke-width="2.2" stroke-linecap="round"/>
<line x1="-2" y1="394.6" x2="906" y2="173" stroke="#f5e93a" stroke-width="2.2" stroke-linecap="round"/>
<text x="1110.6" y="3.9000000000000004" font-family='"Liberation Sans", sans-serif' font-size="12" fill="#b2b5be" stroke="#b2b5be" stroke-width="0.35" textLength="53.6" lengthAdjust="spacingAndGlyphs">300.0000</text>
<text x="1110.6" y="40.9" font-family='"Liberation Sans", sans-serif' font-size="12" fill="#b2b5be" stroke="#b2b5be" stroke-width="0.35" textLength="53.6" lengthAdjust="spacingAndGlyphs">260.0000</text>
<text x="1110.6" y="83.9" font-family='"Liberation Sans", sans-serif' font-size="12" fill="#b2b5be" stroke="#b2b5be" stroke-width="0.35" textLength="53.6" lengthAdjust="spacingAndGlyphs">180.0000</text>
<text x="1110.6" y="129.9" font-family='"Liberation Sans", sans-serif' font-size="12" fill="#b2b5be" stroke="#b2b5be" stroke-width="0.35" textLength="53.6" lengthAdjust="spacingAndGlyphs">120.0000</text>
<text x="1110.6" y="162.9" font-family='"Liberation Sans", sans-serif' font-size="12" fill="#b2b5be" stroke="#b2b5be" stroke-width="0.35" textLength="46.8" lengthAdjust="spacingAndGlyphs">90.0000</text>
<text x="1110.6" y="208.9" font-family='"Liberation Sans", sans-serif' font-size="12" fill="#b2b5be" stroke="#b2b5be" stroke-width="0.35" textLength="46.8" lengthAdjust="spacingAndGlyphs">60.0000</text>
<text x="1110.6" y="244.9" font-family='"Liberation Sans", sans-serif' font-size="12" fill="#b2b5be" stroke="#b2b5be" stroke-width="0.35" textLength="46.8" lengthAdjust="spacingAndGlyphs">44.0000</text>
<text x="1110.6" y="283.9" font-family='"Liberation Sans", sans-serif' font-size="12" fill="#b2b5be" stroke="#b2b5be" stroke-width="0.35" textLength="46.8" lengthAdjust="spacingAndGlyphs">31.5000</text>
<text x="1110.6" y="316.9" font-family='"Liberation Sans", sans-serif' font-size="12" fill="#b2b5be" stroke="#b2b5be" stroke-width="0.35" textLength="46.8" lengthAdjust="spacingAndGlyphs">23.5000</text>
<text x="1110.6" y="350.9" font-family='"Liberation Sans", sans-serif' font-size="12" fill="#b2b5be" stroke="#b2b5be" stroke-width="0.35" textLength="46.8" lengthAdjust="spacingAndGlyphs">17.5000</text>
<text x="1110.6" y="389.9" font-family='"Liberation Sans", sans-serif' font-size="12" fill="#b2b5be" stroke="#b2b5be" stroke-width="0.35" textLength="46.8" lengthAdjust="spacingAndGlyphs">12.5000</text>
<text x="1110.6" y="426.9" font-family='"Liberation Sans", sans-serif' font-size="12" fill="#b2b5be" stroke="#b2b5be" stroke-width="0.35" textLength="40.0" lengthAdjust="spacingAndGlyphs">9.0000</text>
<text x="1110.6" y="462.9" font-family='"Liberation Sans", sans-serif' font-size="12" fill="#b2b5be" stroke="#b2b5be" stroke-width="0.35" textLength="40.0" lengthAdjust="spacingAndGlyphs">6.6000</text>
<path d="M1043 131h57v18.5h-57a2 2 0 0 1 -2 -2v-14.5a2 2 0 0 1 2 -2z" fill="#36a69a"/>
<path d="M1100 131h70a2 2 0 0 1 2 2v29.5a2 2 0 0 1 -2 2h-70z" fill="#36a69a"/>
<text x="1046.5" y="144.7" font-family='"Liberation Sans", sans-serif' font-size="12" fill="#e9f5f3" stroke="#e9f5f3" stroke-width="0.45" textLength="45.7" lengthAdjust="spacingAndGlyphs">USDRUB</text>
<text x="1112.3" y="144.7" font-family='"Liberation Sans", sans-serif' font-size="12" font-weight="bold" fill="#ffffff" textLength="51.8" lengthAdjust="spacingAndGlyphs">104.9790</text>
<text x="1113" y="159.6" font-family='"Liberation Sans", sans-serif' font-size="12" fill="#cdebe6" stroke="#cdebe6" stroke-width="0.35" textLength="37.8" lengthAdjust="spacingAndGlyphs">4d 14h</text>
<rect x="0" y="491" width="4" height="1.5" fill="#ef5350"/>
<rect x="7" y="491" width="2" height="1.5" fill="#26a69a"/>
<rect x="9" y="491" width="4" height="1.5" fill="#26a69a"/>
<rect x="14" y="491" width="2" height="1.5" fill="#26a69a"/>
<rect x="19" y="491" width="5" height="1.5" fill="#26a69a"/>
<rect x="25" y="491" width="2" height="1.5" fill="#ffcdd2"/>
<rect x="27" y="491" width="2" height="1.5" fill="#ef5350"/>
<rect x="29" y="491" width="5" height="1.5" fill="#26a69a"/>
<rect x="35" y="491" width="2" height="1.5" fill="#ef5350"/>
<rect x="39" y="491" width="5" height="1.5" fill="#ef5350"/>
<rect x="44" y="491" width="4" height="1.5" fill="#ef5350"/>
<rect x="48" y="491" width="3" height="1.5" fill="#b2dfdb"/>
<rect x="51" y="491" width="2" height="1.5" fill="#26a69a"/>
<rect x="54" y="491" width="5" height="1.5" fill="#ffcdd2"/>
<rect x="61" y="491" width="5" height="1.5" fill="#ffcdd2"/>
<rect x="68" y="491" width="4" height="1.5" fill="#ef5350"/>
<rect x="73" y="491" width="3" height="1.5" fill="#26a69a"/>
<rect x="78" y="491" width="5" height="1.5" fill="#b2dfdb"/>
<rect x="86" y="491" width="4" height="1.5" fill="#26a69a"/>
<rect x="90" y="491" width="5" height="1.5" fill="#ef5350"/>
<rect x="97" y="491" width="3" height="1.5" fill="#ffcdd2"/>
<rect x="103" y="491" width="2" height="1.5" fill="#26a69a"/>
<rect x="107" y="491" width="4" height="1.5" fill="#b2dfdb"/>
<rect x="114" y="491" width="5" height="1.5" fill="#26a69a"/>
<rect x="119" y="491" width="4" height="1.5" fill="#ffcdd2"/>
<rect x="123" y="491" width="2" height="1.5" fill="#b2dfdb"/>
<rect x="128" y="491" width="4" height="1.5" fill="#ffcdd2"/>
<rect x="134" y="491" width="2" height="1.5" fill="#ffcdd2"/>
<rect x="138" y="491" width="3" height="1.5" fill="#26a69a"/>
<rect x="144" y="491" width="2" height="1.5" fill="#ef5350"/>
<rect x="148" y="491" width="3" height="1.5" fill="#ef5350"/>
<rect x="154" y="491" width="5" height="1.5" fill="#ffcdd2"/>
<rect x="159" y="491" width="3" height="1.5" fill="#ffcdd2"/>
<rect x="165" y="491" width="4" height="1.5" fill="#ef5350"/>
<rect x="172" y="491" width="4" height="1.5" fill="#ffcdd2"/>
<rect x="178" y="491" width="5" height="1.5" fill="#ef5350"/>
<rect x="184" y="491" width="2" height="1.5" fill="#ef5350"/>
<rect x="187" y="491" width="3" height="1.5" fill="#ef5350"/>
<rect x="190" y="491" width="5" height="1.5" fill="#ef5350"/>
<rect x="197" y="491" width="4" height="1.5" fill="#26a69a"/>
<rect x="202" y="491" width="5" height="1.5" fill="#b2dfdb"/>
<rect x="209" y="491" width="3" height="1.5" fill="#26a69a"/>
<rect x="215" y="491" width="5" height="1.5" fill="#ffcdd2"/>
<rect x="223" y="491" width="5" height="1.5" fill="#26a69a"/>
<rect x="231" y="491" width="5" height="1.5" fill="#26a69a"/>
<rect x="237" y="491" width="2" height="1.5" fill="#ef5350"/>
<rect x="242" y="491" width="3" height="1.5" fill="#26a69a"/>
<rect x="247" y="491" width="2" height="1.5" fill="#26a69a"/>
<rect x="249" y="491" width="3" height="1.5" fill="#26a69a"/>
<rect x="254" y="491" width="2" height="1.5" fill="#26a69a"/>
<rect x="257" y="491" width="5" height="1.5" fill="#ef5350"/>
<rect x="264" y="491" width="4" height="1.5" fill="#b2dfdb"/>
<rect x="271" y="491" width="2" height="1.5" fill="#26a69a"/>
<rect x="276" y="491" width="5" height="1.5" fill="#ffcdd2"/>
<rect x="284" y="491" width="4" height="1.5" fill="#26a69a"/>
<rect x="289" y="491" width="2" height="1.5" fill="#b2dfdb"/>
<rect x="293" y="491" width="5" height="1.5" fill="#ef5350"/>
<rect x="298" y="491" width="3" height="1.5" fill="#b2dfdb"/>
<rect x="302" y="491" width="2" height="1.5" fill="#b2dfdb"/>
<rect x="304" y="491" width="4" height="1.5" fill="#b2dfdb"/>
<rect x="309" y="491" width="4" height="1.5" fill="#ef5350"/>
<rect x="315" y="491" width="3" height="1.5" fill="#ef5350"/>
<rect x="319" y="491" width="5" height="1.5" fill="#ef5350"/>
<rect x="325" y="491" width="5" height="1.5" fill="#b2dfdb"/>
<rect x="330" y="491" width="2" height="1.5" fill="#b2dfdb"/>
<rect x="335" y="491" width="4" height="1.5" fill="#ef5350"/>
<rect x="341" y="491" width="5" height="1.5" fill="#b2dfdb"/>
<rect x="348" y="491" width="2" height="1.5" fill="#ef5350"/>
<rect x="350" y="491" width="3" height="1.5" fill="#ffcdd2"/>
<rect x="354" y="491" width="4" height="1.5" fill="#ef5350"/>
<rect x="361" y="491" width="2" height="1.5" fill="#ffcdd2"/>
<rect x="365" y="491" width="2" height="1.5" fill="#26a69a"/>
<rect x="370" y="491" width="3" height="1.5" fill="#ffcdd2"/>
<rect x="374" y="491" width="5" height="1.5" fill="#b2dfdb"/>
<rect x="379" y="491" width="5" height="1.5" fill="#ffcdd2"/>
<rect x="387" y="491" width="2" height="1.5" fill="#ef5350"/>
<rect x="390" y="491" width="3" height="1.5" fill="#26a69a"/>
<rect x="394" y="491" width="5" height="1.5" fill="#ef5350"/>
<rect x="402" y="491" width="4" height="1.5" fill="#ef5350"/>
<rect x="407" y="491" width="2" height="1.5" fill="#26a69a"/>
<rect x="409" y="491" width="3" height="1.5" fill="#ffcdd2"/>
<rect x="413" y="491" width="3" height="1.5" fill="#26a69a"/>
<rect x="418" y="491" width="3" height="1.5" fill="#b2dfdb"/>
<rect x="422" y="491" width="4" height="1.5" fill="#b2dfdb"/>
<rect x="429" y="491" width="3" height="1.5" fill="#26a69a"/>
<rect x="434" y="491" width="5" height="1.5" fill="#ffcdd2"/>
<rect x="440" y="491" width="3" height="1.5" fill="#26a69a"/>
<rect x="446" y="491" width="3" height="1.5" fill="#26a69a"/>
<rect x="450" y="491" width="3" height="1.5" fill="#ef5350"/>
<rect x="456" y="491" width="2" height="1.5" fill="#26a69a"/>
<rect x="460" y="491" width="5" height="1.5" fill="#26a69a"/>
<rect x="465" y="491" width="3" height="1.5" fill="#ef5350"/>
<rect x="470" y="491" width="2" height="1.5" fill="#26a69a"/>
<rect x="475" y="491" width="2" height="1.5" fill="#26a69a"/>
<rect x="480" y="491" width="4" height="1.5" fill="#ef5350"/>
<rect x="486" y="491" width="5" height="1.5" fill="#ffcdd2"/>
<rect x="492" y="491" width="4" height="1.5" fill="#ef5350"/>
<rect x="499" y="491" width="3" height="1.5" fill="#ffcdd2"/>
<rect x="502" y="491" width="5" height="1.5" fill="#ffcdd2"/>
<rect x="509" y="491" width="2" height="1.5" fill="#ef5350"/>
<rect x="514" y="491" width="2" height="1.5" fill="#ef5350"/>
<rect x="518" y="491" width="2" height="1.5" fill="#ef5350"/>
<rect x="522" y="491" width="3" height="1.5" fill="#b2dfdb"/>
<rect x="526" y="491" width="5" height="1.5" fill="#ef5350"/>
<rect x="531" y="491" width="5" height="1.5" fill="#ffcdd2"/>
<rect x="537" y="491" width="3" height="1.5" fill="#ef5350"/>
<rect x="543" y="491" width="5" height="1.5" fill="#b2dfdb"/>
<rect x="551" y="491" width="3" height="1.5" fill="#b2dfdb"/>
<rect x="556" y="491" width="2" height="1.5" fill="#b2dfdb"/>
<rect x="558" y="491" width="4" height="1.5" fill="#ffcdd2"/>
<rect x="565" y="491" width="2" height="1.5" fill="#ffcdd2"/>
<rect x="569" y="491" width="4" height="1.5" fill="#26a69a"/>
<rect x="573" y="491" width="3" height="1.5" fill="#26a69a"/>
<rect x="576" y="491" width="4" height="1.5" fill="#b2dfdb"/>
<rect x="580" y="491" width="3" height="1.5" fill="#b2dfdb"/>
<rect x="584" y="491" width="5" height="1.5" fill="#b2dfdb"/>
<rect x="592" y="491" width="3" height="1.5" fill="#ffcdd2"/>
<rect x="597" y="491" width="2" height="1.5" fill="#b2dfdb"/>
<rect x="599" y="491" width="3" height="1.5" fill="#ffcdd2"/>
<rect x="602" y="491" width="4" height="1.5" fill="#26a69a"/>
<rect x="606" y="491" width="4" height="1.5" fill="#26a69a"/>
<rect x="611" y="491" width="2" height="1.5" fill="#b2dfdb"/>
<rect x="613" y="491" width="5" height="1.5" fill="#26a69a"/>
<rect x="620" y="491" width="5" height="1.5" fill="#b2dfdb"/>
<rect x="626" y="491" width="2" height="1.5" fill="#ef5350"/>
<rect x="628" y="491" width="3" height="1.5" fill="#b2dfdb"/>
<rect x="631" y="491" width="3" height="1.5" fill="#ef5350"/>
<rect x="636" y="491" width="4" height="1.5" fill="#ef5350"/>
<rect x="642" y="491" width="5" height="1.5" fill="#ef5350"/>
<rect x="649" y="491" width="4" height="1.5" fill="#26a69a"/>
<rect x="655" y="491" width="2" height="1.5" fill="#26a69a"/>
<rect x="657" y="491" width="3" height="1.5" fill="#ffcdd2"/>
<rect x="661" y="491" width="5" height="1.5" fill="#26a69a"/>
<rect x="669" y="491" width="5" height="1.5" fill="#ffcdd2"/>
<rect x="676" y="491" width="3" height="1.5" fill="#ef5350"/>
<rect x="681" y="491" width="3" height="1.5" fill="#ef5350"/>
<rect x="687" y="491" width="4" height="1.5" fill="#26a69a"/>
<rect x="692" y="491" width="2" height="1.5" fill="#26a69a"/>
<rect x="696" y="491" width="5" height="1.5" fill="#ef5350"/>
<rect x="701" y="491" width="2" height="1.5" fill="#ffcdd2"/>
<rect x="705" y="491" width="3" height="1.5" fill="#b2dfdb"/>
<rect x="708" y="491" width="5" height="1.5" fill="#ef5350"/>
<rect x="41" y="489" width="6" height="2" fill="#b2dfdb"/>
<rect x="47" y="488.5" width="6" height="2.5" fill="#26a69a"/>
<rect x="53" y="489.5" width="3" height="1.5" fill="#b2dfdb"/>
<rect x="60" y="491" width="4" height="1.5" fill="#ef5350"/>
<rect x="63" y="491" width="12" height="2" fill="#ffcdd2"/>
<rect x="330" y="488.5" width="10" height="2.5" fill="#26a69a"/>
<rect x="340" y="488" width="5" height="3" fill="#b2dfdb"/>
<rect x="345" y="491" width="7" height="2" fill="#ef5350"/>
<rect x="500" y="488" width="12" height="3" fill="#26a69a"/>
<rect x="512" y="487.8" width="4" height="3.1999999999999886" fill="#b2dfdb"/>
<rect x="516" y="491" width="4" height="3" fill="#ef5350"/>
<rect x="520" y="491" width="6" height="4.5" fill="#ffcdd2"/>
<rect x="527" y="488.5" width="5" height="2.5" fill="#26a69a"/>
<rect x="532" y="489" width="3" height="2" fill="#b2dfdb"/>
<rect x="535" y="491" width="2" height="2" fill="#ef5350"/>
<rect x="539" y="489" width="6" height="2" fill="#26a69a"/>
<rect x="546" y="491" width="5" height="4" fill="#ef5350"/>
<rect x="551" y="491" width="2" height="3" fill="#ffcdd2"/>
<rect x="610" y="489.5" width="8" height="1.5" fill="#b2dfdb"/>
<rect x="659" y="488.5" width="7" height="2.5" fill="#b2dfdb"/>
<rect x="666" y="491" width="5" height="2" fill="#ef5350"/>
<rect x="674" y="489.5" width="6" height="1.5" fill="#26a69a"/>
<rect x="680" y="491" width="6" height="2" fill="#ef5350"/>
<rect x="712" y="489" width="4" height="2" fill="#b2dfdb"/>
<rect x="716" y="481" width="2" height="10" fill="#b2dfdb"/>
<path d="M0.0 491.0C6.7 491.0 32.8 491.6 40.0 491.0C47.2 490.4 41.7 488.5 43.0 487.5C44.3 486.5 46.3 485.5 48.0 485.0C49.7 484.5 51.0 484.3 53.0 484.5C55.0 484.7 57.5 485.3 60.0 486.0C62.5 486.7 65.5 487.9 68.0 488.5C70.5 489.1 72.2 489.6 75.0 489.6C77.8 489.6 82.2 488.2 85.0 488.3C87.8 488.4 89.5 489.6 92.0 490.0C94.5 490.4 93.7 490.6 100.0 490.6C106.3 490.6 120.0 490.1 130.0 490.0C140.0 489.9 148.3 490.0 160.0 490.3C171.7 490.6 186.7 491.5 200.0 491.6C213.3 491.8 223.3 491.3 240.0 491.2C256.7 491.1 285.8 491.4 300.0 491.2C314.2 491.0 319.2 490.5 325.0 490.0C330.8 489.5 332.1 488.8 335.0 488.0C337.9 487.2 340.2 485.0 342.5 485.2C344.8 485.4 346.4 487.9 349.0 489.0C351.6 490.1 352.8 491.1 358.0 491.5C363.2 491.9 372.2 491.6 380.0 491.5C387.8 491.4 398.8 491.6 405.0 491.2C411.2 490.8 413.2 489.3 417.0 489.3C420.8 489.3 424.3 491.0 428.0 491.0C431.7 491.0 435.0 489.2 439.0 489.3C443.0 489.4 446.8 491.2 452.0 491.5C457.2 491.8 463.8 491.4 470.0 491.0C476.2 490.6 484.0 489.4 489.0 489.3C494.0 489.2 497.5 490.6 500.0 490.5C502.5 490.4 502.5 490.1 504.0 489.0C505.5 487.9 507.4 485.9 509.0 484.0C510.6 482.1 512.2 477.7 513.5 477.4C514.8 477.1 515.5 479.8 517.0 482.0C518.5 484.2 521.0 489.9 522.5 490.8C524.0 491.7 524.7 488.6 526.0 487.5C527.3 486.4 529.0 484.2 530.5 484.1C532.0 484.0 533.0 487.3 535.0 487.0C537.0 486.7 540.5 482.2 542.5 482.4C544.5 482.6 545.8 486.5 547.0 488.0C548.2 489.5 548.7 490.7 550.0 491.5C551.3 492.3 550.8 492.7 555.0 493.0C559.2 493.3 569.2 493.6 575.0 493.5C580.8 493.4 585.8 492.9 590.0 492.5C594.2 492.1 597.2 491.6 600.0 491.0C602.8 490.4 604.4 489.6 607.0 489.0C609.6 488.4 612.5 487.0 615.5 487.2C618.5 487.4 620.9 489.3 625.0 490.0C629.1 490.7 635.0 491.2 640.0 491.5C645.0 491.8 651.8 492.2 655.0 492.0C658.2 491.8 657.7 491.3 659.0 490.0C660.3 488.7 661.4 485.0 662.7 484.3C664.0 483.6 665.8 485.3 667.0 486.0C668.2 486.7 668.3 488.5 670.0 488.5C671.7 488.5 674.8 486.1 677.0 486.2C679.2 486.3 680.8 488.3 683.0 489.0C685.2 489.7 687.2 490.1 690.0 490.5C692.8 490.9 696.7 491.6 700.0 491.5C703.3 491.4 707.5 490.6 710.0 490.0C712.5 489.4 713.9 489.8 715.0 488.0C716.1 486.2 715.9 481.4 716.5 479.0C717.1 476.6 718.3 474.2 718.7 473.3" fill="none" stroke="#3f51e0" stroke-width="1.7" stroke-linejoin="round"/>
<path d="M0.0 491.0C6.8 491.0 33.5 491.4 41.0 491.0C48.5 490.6 43.5 489.4 45.0 488.5C46.5 487.6 48.5 486.4 50.0 485.8C51.5 485.2 52.3 485.0 54.0 485.0C55.7 485.0 57.3 485.2 60.0 485.6C62.7 486.0 67.0 486.9 70.0 487.5C73.0 488.1 75.5 488.9 78.0 489.0C80.5 489.1 82.7 488.2 85.0 488.3C87.3 488.4 89.5 489.1 92.0 489.5C94.5 489.9 93.7 490.4 100.0 490.5C106.3 490.6 120.0 490.0 130.0 490.0C140.0 490.0 148.3 490.1 160.0 490.3C171.7 490.6 186.7 491.4 200.0 491.5C213.3 491.6 223.3 491.1 240.0 491.0C256.7 490.9 285.8 491.3 300.0 491.2C314.2 491.1 319.2 490.9 325.0 490.5C330.8 490.1 331.9 489.7 335.0 489.0C338.1 488.3 341.0 486.3 343.5 486.2C346.0 486.1 347.6 487.7 350.0 488.5C352.4 489.3 353.0 490.3 358.0 490.8C363.0 491.3 372.2 491.3 380.0 491.3C387.8 491.3 398.7 491.3 405.0 491.0C411.3 490.7 414.2 489.5 418.0 489.5C421.8 489.5 424.3 490.8 428.0 490.8C431.7 490.8 436.0 489.4 440.0 489.5C444.0 489.6 447.0 491.1 452.0 491.3C457.0 491.6 463.7 491.3 470.0 491.0C476.3 490.7 485.0 489.6 490.0 489.5C495.0 489.4 497.5 490.3 500.0 490.3C502.5 490.3 503.3 490.3 505.0 489.5C506.7 488.7 508.5 487.2 510.0 485.5C511.5 483.8 513.0 479.9 514.2 479.1C515.4 478.4 516.0 479.7 517.0 481.0C518.0 482.3 518.8 485.6 520.0 487.0C521.2 488.4 522.7 489.5 524.0 489.5C525.3 489.5 526.7 487.7 528.0 487.0C529.3 486.3 530.5 485.2 532.0 485.1C533.5 485.0 535.2 486.4 537.0 486.1C538.8 485.8 541.2 483.2 543.0 483.4C544.8 483.5 546.5 485.8 548.0 487.0C549.5 488.2 550.0 489.9 552.0 490.8C554.0 491.7 556.2 491.9 560.0 492.2C563.8 492.5 570.0 492.8 575.0 492.8C580.0 492.8 585.8 492.3 590.0 492.0C594.2 491.7 597.0 491.4 600.0 491.0C603.0 490.6 605.2 490.0 608.0 489.5C610.8 489.0 613.8 487.8 616.6 487.8C619.4 487.9 621.1 489.2 625.0 489.8C628.9 490.4 635.0 491.1 640.0 491.5C645.0 491.9 651.8 492.1 655.0 492.0C658.2 491.9 657.8 491.7 659.0 491.0C660.2 490.3 661.0 488.9 662.0 488.0C663.0 487.1 663.7 485.8 665.0 485.8C666.3 485.8 668.3 487.6 670.0 488.0C671.7 488.4 673.7 488.6 675.0 488.5C676.3 488.4 676.8 487.6 678.0 487.5C679.2 487.4 680.3 487.6 682.0 488.0C683.7 488.4 685.8 489.5 688.0 490.0C690.2 490.5 691.8 490.8 695.0 491.0C698.2 491.2 704.2 491.7 707.0 491.5C709.8 491.3 710.5 490.5 712.0 490.0C713.5 489.5 715.1 490.0 716.0 488.5C716.9 487.0 717.1 482.3 717.5 481.0C717.9 479.7 718.3 480.6 718.5 480.5" fill="none" stroke="#f57c00" stroke-width="1.7" stroke-linejoin="round"/>
<text x="1111" y="497" font-family='"Liberation Sans", sans-serif' font-size="12" fill="#b2b5be" textLength="38.8" lengthAdjust="spacingAndGlyphs">0.0000</text>
<rect x="1100" y="471" width="57" height="4" fill="#f57c00"/>
<path d="M1100 475h55a2 2 0 0 1 2 2v14.7a2 2 0 0 1 -2 2h-55z" fill="#b2dfdb"/>
<text x="1112" y="488.6" font-family='"Liberation Sans", sans-serif' font-size="12" fill="#131722" stroke="#131722" stroke-width="0.3" textLength="37.7" lengthAdjust="spacingAndGlyphs">3.9331</text>
<rect x="0" y="525.2" width="1100" height="1.2" fill="#2a2d38"/>
<rect x="0" y="524.3" width="42" height="2" fill="#ef5350" opacity="0.85"/>
<rect x="47" y="524.3" width="3" height="2" fill="#ef5350" opacity="0.85"/>
<rect x="56" y="524.3" width="2" height="2" fill="#ef5350" opacity="0.85"/>
<rect x="79" y="524.3" width="5" height="2" fill="#ef5350" opacity="0.85"/>
<rect x="127" y="524.3" width="39" height="2" fill="#ef5350" opacity="0.85"/>
<rect x="171" y="524.3" width="12" height="2" fill="#ef5350" opacity="0.85"/>
<rect x="191" y="524.3" width="12" height="2" fill="#ef5350" opacity="0.85"/>
<rect x="218" y="524.3" width="13" height="2" fill="#ef5350" opacity="0.85"/>
<rect x="262" y="524.3" width="4" height="2" fill="#ef5350" opacity="0.85"/>
<rect x="277" y="524.3" width="4" height="2" fill="#ef5350" opacity="0.85"/>
<rect x="287" y="524.3" width="9" height="2" fill="#ef5350" opacity="0.85"/>
<line x1="-4" y1="526" x2="1100" y2="526" stroke="#9a9da5" stroke-width="2" stroke-dasharray="5 6"/>
<path d="M1100 517h62a3 3 0 0 1 3 3v12.5a3 3 0 0 1 -3 3h-62z" fill="#363a45"/>
<text x="1112" y="530.9" font-family='"Liberation Sans", sans-serif' font-size="12" fill="#ffffff" stroke="#ffffff" stroke-width="0.6" textLength="45.6" lengthAdjust="spacingAndGlyphs">62.3608</text>
<g>
<path d="M292.4 499h42.6a2.5 2.5 0 0 1 2.5 2.5v14.7a2.5 2.5 0 0 1 -2.5 2.5H321.4L313.7 526.7L306.0 518.7H292.4a2.5 2.5 0 0 1 -2.5 -2.5v-14.7a2.5 2.5 0 0 1 2.5 -2.5z" fill="#4c8ce4"/>
<path d="M320.5 499h38.2a2.5 2.5 0 0 1 2.5 2.5v14.7a2.5 2.5 0 0 1 -2.5 2.5H347.3L339.6 526.7L331.90000000000003 518.7H320.5a2.5 2.5 0 0 1 -2.5 -2.5v-14.7a2.5 2.5 0 0 1 2.5 -2.5z" fill="#f55b52"/>
<path d="M320.8 499h42.6a2.5 2.5 0 0 1 2.5 2.5v14.7a2.5 2.5 0 0 1 -2.5 2.5H349.8L342.1 526.7L334.40000000000003 518.7H320.8a2.5 2.5 0 0 1 -2.5 -2.5v-14.7a2.5 2.5 0 0 1 2.5 -2.5z" fill="#4c8ce4"/>
<path d="M396.2 499h42.6a2.5 2.5 0 0 1 2.5 2.5v14.7a2.5 2.5 0 0 1 -2.5 2.5H425.2L417.5 526.7L409.8 518.7H396.2a2.5 2.5 0 0 1 -2.5 -2.5v-14.7a2.5 2.5 0 0 1 2.5 -2.5z" fill="#4c8ce4"/>
<path d="M418.4 499h38.2a2.5 2.5 0 0 1 2.5 2.5v14.7a2.5 2.5 0 0 1 -2.5 2.5H445.2L437.5 526.7L429.8 518.7H418.4a2.5 2.5 0 0 1 -2.5 -2.5v-14.7a2.5 2.5 0 0 1 2.5 -2.5z" fill="#f55b52"/>
<path d="M465.9 499h38.2a2.5 2.5 0 0 1 2.5 2.5v14.7a2.5 2.5 0 0 1 -2.5 2.5H492.7L485 526.7L477.3 518.7H465.9a2.5 2.5 0 0 1 -2.5 -2.5v-14.7a2.5 2.5 0 0 1 2.5 -2.5z" fill="#f55b52"/>
<path d="M467.09999999999997 499h42.6a2.5 2.5 0 0 1 2.5 2.5v14.7a2.5 2.5 0 0 1 -2.5 2.5H496.09999999999997L488.4 526.7L480.7 518.7H467.09999999999997a2.5 2.5 0 0 1 -2.5 -2.5v-14.7a2.5 2.5 0 0 1 2.5 -2.5z" fill="#4c8ce4"/>
<path d="M482.7 499h38.2a2.5 2.5 0 0 1 2.5 2.5v14.7a2.5 2.5 0 0 1 -2.5 2.5H509.5L501.8 526.7L494.1 518.7H482.7a2.5 2.5 0 0 1 -2.5 -2.5v-14.7a2.5 2.5 0 0 1 2.5 -2.5z" fill="#f55b52"/>
<path d="M486.7 499h42.6a2.5 2.5 0 0 1 2.5 2.5v14.7a2.5 2.5 0 0 1 -2.5 2.5H515.7L508 526.7L500.3 518.7H486.7a2.5 2.5 0 0 1 -2.5 -2.5v-14.7a2.5 2.5 0 0 1 2.5 -2.5z" fill="#4c8ce4"/>
<path d="M491.4 499h38.2a2.5 2.5 0 0 1 2.5 2.5v14.7a2.5 2.5 0 0 1 -2.5 2.5H518.2L510.5 526.7L502.8 518.7H491.4a2.5 2.5 0 0 1 -2.5 -2.5v-14.7a2.5 2.5 0 0 1 2.5 -2.5z" fill="#f55b52"/>
<path d="M508.9 499h38.2a2.5 2.5 0 0 1 2.5 2.5v14.7a2.5 2.5 0 0 1 -2.5 2.5H535.7L528 526.7L520.3 518.7H508.9a2.5 2.5 0 0 1 -2.5 -2.5v-14.7a2.5 2.5 0 0 1 2.5 -2.5z" fill="#f55b52"/>
<path d="M524.6 499h38.2a2.5 2.5 0 0 1 2.5 2.5v14.7a2.5 2.5 0 0 1 -2.5 2.5H551.4000000000001L543.7 526.7L536.0 518.7H524.6a2.5 2.5 0 0 1 -2.5 -2.5v-14.7a2.5 2.5 0 0 1 2.5 -2.5z" fill="#f55b52"/>
<path d="M584.6 499h42.6a2.5 2.5 0 0 1 2.5 2.5v14.7a2.5 2.5 0 0 1 -2.5 2.5H613.6L605.9 526.7L598.1999999999999 518.7H584.6a2.5 2.5 0 0 1 -2.5 -2.5v-14.7a2.5 2.5 0 0 1 2.5 -2.5z" fill="#4c8ce4"/>
<path d="M588.5 499h38.2a2.5 2.5 0 0 1 2.5 2.5v14.7a2.5 2.5 0 0 1 -2.5 2.5H615.3000000000001L607.6 526.7L599.9 518.7H588.5a2.5 2.5 0 0 1 -2.5 -2.5v-14.7a2.5 2.5 0 0 1 2.5 -2.5z" fill="#f55b52"/>
<path d="M593.5 499h42.6a2.5 2.5 0 0 1 2.5 2.5v14.7a2.5 2.5 0 0 1 -2.5 2.5H622.5L614.8 526.7L607.0999999999999 518.7H593.5a2.5 2.5 0 0 1 -2.5 -2.5v-14.7a2.5 2.5 0 0 1 2.5 -2.5z" fill="#4c8ce4"/>
<path d="M639.7 499h42.6a2.5 2.5 0 0 1 2.5 2.5v14.7a2.5 2.5 0 0 1 -2.5 2.5H668.7L661 526.7L653.3 518.7H639.7a2.5 2.5 0 0 1 -2.5 -2.5v-14.7a2.5 2.5 0 0 1 2.5 -2.5z" fill="#4c8ce4"/>
<path d="M693.9000000000001 499h44.6a2.5 2.5 0 0 1 2.5 2.5v14.7a2.5 2.5 0 0 1 -2.5 2.5H723.9000000000001L716.2 526.7L708.5 518.7H693.9000000000001a2.5 2.5 0 0 1 -2.5 -2.5v-14.7a2.5 2.5 0 0 1 2.5 -2.5z" fill="#4c8ce4"/>
</g>
<clipPath id="c1"><rect x="296.5" y="498.8" width="9.0" height="16"/></clipPath><g clip-path="url(#c1)"><text x="299.5" y="510.8" font-family='"Liberation Sans", sans-serif' font-size="10.5" fill="#ffffff" stroke="#ffffff" stroke-width="0.55" textLength="28.6" lengthAdjust="spacingAndGlyphs">PIVOT</text></g>
<text x="327.8" y="510.8" font-family='"Liberation Sans", sans-serif' font-size="10.5" fill="#ffffff" stroke="#ffffff" stroke-width="0.55" textLength="28.6" lengthAdjust="spacingAndGlyphs">PIVOT</text>
<clipPath id="c2"><rect x="400.2" y="498.8" width="15.800000000000011" height="16"/></clipPath><g clip-path="url(#c2)"><text x="403.2" y="510.8" font-family='"Liberation Sans", sans-serif' font-size="10.5" fill="#ffffff" stroke="#ffffff" stroke-width="0.55" textLength="28.6" lengthAdjust="spacingAndGlyphs">PIVOT</text></g>
<text x="424.7" y="510.8" font-family='"Liberation Sans", sans-serif' font-size="10.5" fill="#ffffff" stroke="#ffffff" stroke-width="0.55" textLength="24.5" lengthAdjust="spacingAndGlyphs">BEAR</text>
<clipPath id="c3"><rect x="470.7" y="498.8" width="9.5" height="16"/></clipPath><g clip-path="url(#c3)"><text x="473.7" y="510.8" font-family='"Liberation Sans", sans-serif' font-size="10.5" fill="#ffffff" stroke="#ffffff" stroke-width="0.55" textLength="28.6" lengthAdjust="spacingAndGlyphs">PIVOT</text></g>
<text x="501.9" y="510.8" font-family='"Liberation Sans", sans-serif' font-size="10.5" fill="#ffffff" stroke="#ffffff" stroke-width="0.55" textLength="5.5" lengthAdjust="spacingAndGlyphs">B</text>
<clipPath id="c4"><rect x="512.2" y="498.8" width="8.099999999999909" height="16"/></clipPath><g clip-path="url(#c4)"><text x="515.2" y="510.8" font-family='"Liberation Sans", sans-serif' font-size="10.5" fill="#ffffff" stroke="#ffffff" stroke-width="0.55" textLength="5.6" lengthAdjust="spacingAndGlyphs">E</text></g>
<text x="531.6" y="510.8" font-family='"Liberation Sans", sans-serif' font-size="10.5" fill="#ffffff" stroke="#ffffff" stroke-width="0.55" textLength="24.2" lengthAdjust="spacingAndGlyphs">BEAR</text>
<text x="601.4" y="510.8" font-family='"Liberation Sans", sans-serif' font-size="10.5" fill="#ffffff" stroke="#ffffff" stroke-width="0.55" textLength="28.6" lengthAdjust="spacingAndGlyphs">PIVOT</text>
<text x="646.5" y="510.8" font-family='"Liberation Sans", sans-serif' font-size="10.5" fill="#ffffff" stroke="#ffffff" stroke-width="0.55" textLength="28.6" lengthAdjust="spacingAndGlyphs">PIVOT</text>
<text x="702.7" y="510.8" font-family='"Liberation Sans", sans-serif' font-size="10.5" fill="#ffffff" stroke="#ffffff" stroke-width="0.55" textLength="28.6" lengthAdjust="spacingAndGlyphs">PIVOT</text>
<path d="M284.09999999999997 553V535.8a2.5 2.5 0 0 1 2.5 -2.5H300.2L307.9 524.9L315.59999999999997 533.3H329.2a2.5 2.5 0 0 1 2.5 2.5V553z" fill="#4c8ce4"/>
<path d="M295.1 553V535.8a2.5 2.5 0 0 1 2.5 -2.5H310.1L317.8 524.9L325.5 533.3H338.0a2.5 2.5 0 0 1 2.5 2.5V553z" fill="#4caf50"/>
<path d="M302.3 553V535.8a2.5 2.5 0 0 1 2.5 -2.5H317.3L325 524.9L332.7 533.3H345.2a2.5 2.5 0 0 1 2.5 2.5V553z" fill="#4caf50"/>
<path d="M378.0 553V535.8a2.5 2.5 0 0 1 2.5 -2.5H394.1L401.8 524.9L409.5 533.3H423.1a2.5 2.5 0 0 1 2.5 2.5V553z" fill="#4c8ce4"/>
<path d="M381.5 553V535.8a2.5 2.5 0 0 1 2.5 -2.5H397.6L405.3 524.9L413.0 533.3H426.6a2.5 2.5 0 0 1 2.5 2.5V553z" fill="#4c8ce4"/>
<path d="M432.9 553V535.8a2.5 2.5 0 0 1 2.5 -2.5H449.0L456.7 524.9L464.4 533.3H478.0a2.5 2.5 0 0 1 2.5 2.5V553z" fill="#4c8ce4"/>
<path d="M497.7 553V535.8a2.5 2.5 0 0 1 2.5 -2.5H513.8L521.5 524.9L529.2 533.3H542.8a2.5 2.5 0 0 1 2.5 2.5V553z" fill="#4c8ce4"/>
<path d="M529.5 553V535.8a2.5 2.5 0 0 1 2.5 -2.5H545.5999999999999L553.3 524.9L561.0 533.3H574.5999999999999a2.5 2.5 0 0 1 2.5 2.5V553z" fill="#4c8ce4"/>
<path d="M538.2 553V535.8a2.5 2.5 0 0 1 2.5 -2.5H554.3L562 524.9L569.7 533.3H583.3a2.5 2.5 0 0 1 2.5 2.5V553z" fill="#4c8ce4"/>
<path d="M547.2 553V535.8a2.5 2.5 0 0 1 2.5 -2.5H563.3L571 524.9L578.7 533.3H592.3a2.5 2.5 0 0 1 2.5 2.5V553z" fill="#4c8ce4"/>
<path d="M578.0 553V535.8a2.5 2.5 0 0 1 2.5 -2.5H592.8L600.5 524.9L608.2 533.3H620.5a2.5 2.5 0 0 1 2.5 2.5V553z" fill="#4caf50"/>
<path d="M631.7 553V535.8a2.5 2.5 0 0 1 2.5 -2.5H647.8L655.5 524.9L663.2 533.3H676.8a2.5 2.5 0 0 1 2.5 2.5V553z" fill="#4c8ce4"/>
<path d="M682.7 553V535.8a2.5 2.5 0 0 1 2.5 -2.5H698.8L706.5 524.9L714.2 533.3H727.8a2.5 2.5 0 0 1 2.5 2.5V553z" fill="#4c8ce4"/>
<clipPath id="c5"><rect x="289.8" y="534.6" width="5.300000000000011" height="16"/></clipPath><g clip-path="url(#c5)"><text x="292.8" y="546.6" font-family='"Liberation Sans", sans-serif' font-size="10.5" fill="#ffffff" stroke="#ffffff" stroke-width="0.55" textLength="28.6" lengthAdjust="spacingAndGlyphs">PIVOT</text></g>
<text x="313.7" y="546.6" font-family='"Liberation Sans", sans-serif' font-size="10.5" fill="#ffffff" stroke="#ffffff" stroke-width="0.55" textLength="23.6" lengthAdjust="spacingAndGlyphs">BULL</text>
<path d="M545.9 532.8L554.1 525M565.3 532.8L574.7 525M396.6 532L404.8 525" stroke="#4caf50" stroke-width="1.1"/>
<text x="391" y="546.6" font-family='"Liberation Sans", sans-serif' font-size="10.5" fill="#ffffff" stroke="#ffffff" stroke-width="0.55" textLength="28.6" lengthAdjust="spacingAndGlyphs">PIVOT</text>
<text x="442.4" y="546.6" font-family='"Liberation Sans", sans-serif' font-size="10.5" fill="#ffffff" stroke="#ffffff" stroke-width="0.55" textLength="28.6" lengthAdjust="spacingAndGlyphs">PIVOT</text>
<clipPath id="c6"><rect x="503.5" y="534.6" width="22.399999999999977" height="16"/></clipPath><g clip-path="url(#c6)"><text x="506.5" y="546.6" font-family='"Liberation Sans", sans-serif' font-size="10.5" fill="#ffffff" stroke="#ffffff" stroke-width="0.55" textLength="28.6" lengthAdjust="spacingAndGlyphs">PIVOT</text></g>
<clipPath id="c7"><rect x="557.6" y="534.6" width="20.399999999999977" height="16"/></clipPath><g clip-path="url(#c7)"><text x="560.6" y="546.6" font-family='"Liberation Sans", sans-serif' font-size="10.5" fill="#ffffff" stroke="#ffffff" stroke-width="0.55" textLength="28.6" lengthAdjust="spacingAndGlyphs">PIVOT</text></g>
<text x="589.4" y="546.6" font-family='"Liberation Sans", sans-serif' font-size="10.5" fill="#ffffff" stroke="#ffffff" stroke-width="0.55" textLength="24.1" lengthAdjust="spacingAndGlyphs">BULL</text>
<text x="641.2" y="546.6" font-family='"Liberation Sans", sans-serif' font-size="10.5" fill="#ffffff" stroke="#ffffff" stroke-width="0.55" textLength="28.6" lengthAdjust="spacingAndGlyphs">PIVOT</text>
<text x="692.2" y="546.6" font-family='"Liberation Sans", sans-serif' font-size="10.5" fill="#ffffff" stroke="#ffffff" stroke-width="0.55" textLength="28.6" lengthAdjust="spacingAndGlyphs">PIVOT</text>
<text x="52.5" y="572.8" text-anchor="middle" font-family='"Liberation Sans", sans-serif' font-size="14.5" font-weight="bold" fill="#b2b5be" textLength="30.8" lengthAdjust="spacingAndGlyphs">1999</text>
<text x="167.5" y="572.8" text-anchor="middle" font-family='"Liberation Sans", sans-serif' font-size="14.5" font-weight="bold" fill="#b2b5be" textLength="30.8" lengthAdjust="spacingAndGlyphs">2003</text>
<text x="282.5" y="572.8" text-anchor="middle" font-family='"Liberation Sans", sans-serif' font-size="14.5" font-weight="bold" fill="#b2b5be" textLength="30.8" lengthAdjust="spacingAndGlyphs">2007</text>
<text x="397.5" y="572.8" text-anchor="middle" font-family='"Liberation Sans", sans-serif' font-size="14.5" font-weight="bold" fill="#b2b5be" textLength="30.8" lengthAdjust="spacingAndGlyphs">2011</text>
<text x="512.5" y="572.8" text-anchor="middle" font-family='"Liberation Sans", sans-serif' font-size="14.5" font-weight="bold" fill="#b2b5be" textLength="30.8" lengthAdjust="spacingAndGlyphs">2015</text>
<text x="626.5" y="572.8" text-anchor="middle" font-family='"Liberation Sans", sans-serif' font-size="14.5" font-weight="bold" fill="#b2b5be" textLength="30.8" lengthAdjust="spacingAndGlyphs">2019</text>
<text x="741.5" y="572.8" text-anchor="middle" font-family='"Liberation Sans", sans-serif' font-size="14.5" font-weight="bold" fill="#b2b5be" textLength="30.8" lengthAdjust="spacingAndGlyphs">2023</text>
<text x="856.5" y="572.8" text-anchor="middle" font-family='"Liberation Sans", sans-serif' font-size="14.5" font-weight="bold" fill="#b2b5be" textLength="30.8" lengthAdjust="spacingAndGlyphs">2027</text>
<text x="971.5" y="572.8" text-anchor="middle" font-family='"Liberation Sans", sans-serif' font-size="14.5" font-weight="bold" fill="#b2b5be" textLength="30.8" lengthAdjust="spacingAndGlyphs">2031</text>
<circle cx="1145" cy="567.5" r="5" fill="none" stroke="#868993" stroke-width="1.1"/>
<path d="M1150.20 567.50L1152.90 567.50M1148.68 571.18L1150.59 573.09M1145.00 572.70L1145.00 575.40M1141.32 571.18L1139.41 573.09M1139.80 567.50L1137.10 567.50M1141.32 563.82L1139.41 561.91M1145.00 562.30L1145.00 559.60M1148.68 563.82L1150.59 561.91" stroke="#868993" stroke-width="1.3"/>
</svg></body></html>
